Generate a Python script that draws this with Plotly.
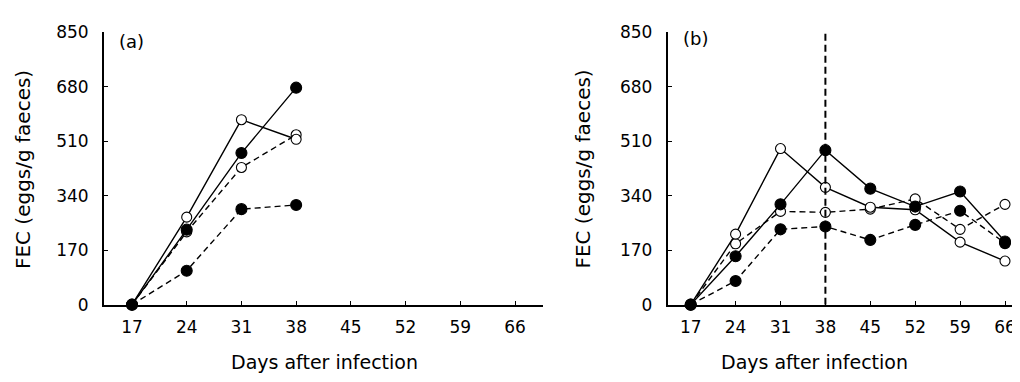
import plotly.graph_objects as go

# ---------------- data ----------------
days_a = [17, 24, 31, 38]
a_filled_solid = [0, 234, 473, 677]
a_open_solid = [0, 273, 577, 516]
a_open_dashed = [0, 227, 428, 530]
a_filled_dashed = [0, 106, 298, 311]

days_b = [17, 24, 31, 38, 45, 52, 59, 66]
b_open_solid = [0, 220, 487, 366, 304, 296, 195, 136]
b_open_dashed = [0, 190, 291, 288, 298, 330, 235, 313]
b_filled_solid = [0, 151, 313, 482, 362, 306, 353, 197]
b_filled_dashed = [0, 74, 235, 244, 202, 249, 293, 192]

x_ticks = [17, 24, 31, 38, 45, 52, 59, 66]
y_ticks = [0, 170, 340, 510, 680, 850]
treatment_day = 38

W, H = 1020, 382
FONT = "DejaVu Sans"
OFFSET = 8  # page offset of the figure in the browser window


def lx(x):
    return x - OFFSET


def ly(y):
    return y - OFFSET


def px(x):
    return lx(x) / W


def py(y):
    return 1 - ly(y) / H


fig = go.Figure()


def add_series(x, y, filled, dashed, xa, ya):
    fig.add_trace(go.Scatter(
        x=x, y=y, mode="lines+markers", xaxis=xa, yaxis=ya,
        line=dict(color="black", width=1.4, dash="6px,4px" if dashed else "solid"),
        marker=dict(symbol="circle", size=11 if filled else 10,
                    color="black" if filled else "white",
                    line=dict(color="black", width=1.1)),
        cliponaxis=False, showlegend=False, hoverinfo="x+y"))


# panel (a)
add_series(days_a, a_open_dashed, False, True, "x", "y")
add_series(days_a, a_filled_dashed, True, True, "x", "y")
add_series(days_a, a_open_solid, False, False, "x", "y")
add_series(days_a, a_filled_solid, True, False, "x", "y")

# panel (b)
add_series(days_b, b_open_dashed, False, True, "x2", "y2")
add_series(days_b, b_filled_dashed, True, True, "x2", "y2")
add_series(days_b, b_open_solid, False, False, "x2", "y2")
add_series(days_b, b_filled_solid, True, False, "x2", "y2")

# axis geometry (target screen pixels)
a_left, a_right, a_t17, a_t66 = 104, 543, 132, 515
b_left, b_t17, b_t66 = 667.7, 690.7, 1005


def xrange_for(left, right_layout_px, t17, t66):
    s = (lx(t66) - lx(t17)) / 49.0
    return [17 - (lx(t17) - lx(left)) / s, 66 + (right_layout_px - lx(t66)) / s]


a_range = xrange_for(a_left, lx(a_right), a_t17, a_t66)
b_range = xrange_for(b_left, W, b_t17, b_t66)

y_bottom = py(310.5)
y_top = py(23)

axis_common = dict(
    showline=True, linecolor="black", linewidth=1.8,
    ticks="inside", ticklen=4, tickwidth=1.2, tickcolor="black",
    showgrid=False, zeroline=False,
    tickfont=dict(family=FONT, size=17, color="black"),
)

fig.update_layout(
    width=W, height=H,
    margin=dict(l=0, r=0, t=0, b=0),
    paper_bgcolor="white", plot_bgcolor="white",
    font=dict(family=FONT, color="black"),
    xaxis=dict(domain=[px(a_left), px(a_right)], range=a_range,
               tickvals=x_ticks, anchor="y", ticklabelstandoff=6, **axis_common),
    yaxis=dict(domain=[y_bottom, y_top], range=[0, 850],
               tickvals=y_ticks, anchor="x", ticklabelstandoff=10, **axis_common),
    xaxis2=dict(domain=[px(b_left), 1.0], range=b_range,
                tickvals=x_ticks, anchor="y2", ticklabelstandoff=6, **axis_common),
    yaxis2=dict(domain=[y_bottom, y_top], range=[0, 850],
                tickvals=y_ticks, anchor="x2", ticklabelstandoff=10, **axis_common),
)

# vertical dashed line (panel b)
fig.add_shape(type="line", xref="x2", yref="y2",
              x0=treatment_day, x1=treatment_day, y0=0, y1=850,
              line=dict(color="black", width=2, dash="7px,4px"))

ann_font_title = dict(family=FONT, size=20, color="black")
ann = [
    dict(text="(a)", x=px(117), y=py(33), xanchor="left", yanchor="middle",
         font=dict(family=FONT, size=18, color="black")),
    dict(text="(b)", x=px(681), y=py(30), xanchor="left", yanchor="middle",
         font=dict(family=FONT, size=18, color="black")),
    dict(text="Days after infection", x=px(324), y=py(371), xanchor="center", yanchor="middle",
         font=dict(family=FONT, size=19, color="black")),
    dict(text="Days after infection", x=px(814), y=py(371), xanchor="center", yanchor="middle",
         font=dict(family=FONT, size=19, color="black")),
    dict(text="FEC (eggs/g faeces)", x=px(22.5), y=py(168), xanchor="center", yanchor="middle",
         textangle=-90, font=ann_font_title),
    dict(text="FEC (eggs/g faeces)", x=px(583), y=py(168), xanchor="center", yanchor="middle",
         textangle=-90, font=ann_font_title),
]
for a in ann:
    fig.add_annotation(xref="paper", yref="paper", showarrow=False, **a)

fig.write_html("out.html")
